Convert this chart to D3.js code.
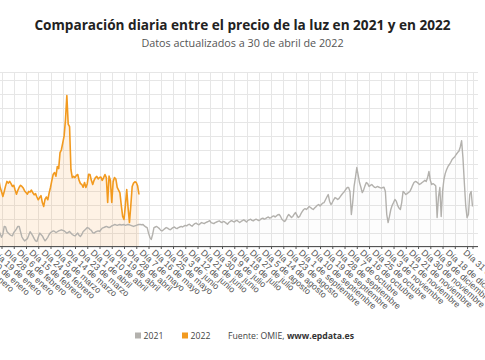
<!DOCTYPE html>
<html><head><meta charset="utf-8">
<script src="https://cdn.jsdelivr.net/npm/d3@7/dist/d3.min.js"></script>
<style>
body{margin:0;background:#fff}
svg{display:block;font-family:"Open Sans",sans-serif}
</style>
</head><body>
<svg id="c" width="485" height="360"></svg>
<script>
const titleText = "Comparación diaria entre el precio de la luz en 2021 y en 2022";
const subtitleText = "Datos actualizados a 30 de abril de 2022";
const seriesNames = ["2021", "2022"];
const sourceLabel = "Fuente: OMIE, ";
const sourceSite = "www.epdata.es";

// 2021 daily prices (€/MWh), by month
const ene21 = [50,43,37,60,66,60,77,94,88,80,92,94,85,73,68,64,60,48,35,45,74,72,56,50,45,42,40,52,58,65,74];
const feb21 = [74,55,36,28,22,26,30,42,55,48,40,30,22,20,35,50,45,40,30,22,28,35,45,52,55,58,56,52];
const mar21 = [55,58,60,62,60,58,54,50,53,56,50,45,42,40,45,50,42,38,45,56,60,65,70,68,63,60,52,50,54,56,58];
const abr21 = [56,62,68,70,72,74,72,70,72,76,78,81,80,78,80,81,79,80,81,78,80,81,80,78,76,74,76,78,80,81];
const may21 = [81,80,81,76,72,70,50,35,27,45,70,72,74,70,66,60,58,62,66,70,68,64,62,66,70,72,68,66,70,72,74];
const jun21 = [72,75,78,76,80,82,78,75,80,84,86,82,80,84,88,86,84,88,90,92,95,88,86,84,88,90,92,94,90,88];
const jul21 = [92,90,86,82,88,92,95,92,90,94,96,92,88,92,95,98,94,90,96,98,100,96,94,98,100,98,95,98,102,104,100];
const ago21 = [102,106,108,104,106,110,112,108,112,116,117,110,100,95,92,98,110,117,112,106,110,118,124,115,106,110,120,128,135,138,135];
const sep21 = [140,146,142,138,135,140,145,150,153,148,153,158,160,170,180,189,165,153,160,170,178,175,171,175,182,189,195,200,208,214];
const oct21 = [214,200,117,160,218,250,286,260,232,215,196,205,220,232,228,218,222,225,220,215,214,218,216,214,212,214,215,200,117,88,110];
const nov21 = [135,150,160,171,165,150,140,135,160,200,195,189,192,196,200,210,222,232,236,234,230,225,228,232,236,240,236,250,272,240];
const dic21 = [225,228,225,220,106,180,214,110,200,243,265,279,290,297,305,315,320,325,333,340,345,360,383,320,232,150,106,117,189,200,146];

// 2022 daily prices (€/MWh), 1 Jan - 30 Apr
const ene22 = [146,120,165,200,210,190,175,160,145,210,235,248,252,245,238,230,243,215,200,182,200,220,236,230,236,228,218,222,205,190,204];
const feb22 = [215,222,218,212,202,196,190,200,198,205,195,188,192,180,170,178,185,160,146,172,180,170,195,215,240,262,268,255];
const mar22 = [290,282,340,350,375,400,458,545,442,433,279,250,254,250,258,261,240,228,225,215,232,214,228,262,261,240,225,240,250,254,245];
const abr22 = [250,252,240,250,261,250,160,255,240,160,235,250,245,215,205,195,150,110,99,150,207,140,88,150,218,230,235,232,220,189];

const tickDays = [0,9,18,27,36,45,54,63,72,81,90,99,108,117,126,135,144,153,162,171,180,189,198,207,216,225,234,243,252,261,270,279,288,297,306,315,324,333,342,351,360,364];
const tickLabels = ["Día 1 de enero","Día 10 de enero","Día 19 de enero","Día 28 de enero","Día 6 de febrero","Día 15 de febrero","Día 24 de febrero","Día 5 de marzo","Día 14 de marzo","Día 23 de marzo","Día 1 de abril","Día 10 de abril","Día 19 de abril","Día 28 de abril","Día 7 de mayo","Día 16 de mayo","Día 25 de mayo","Día 3 de junio","Día 12 de junio","Día 21 de junio","Día 30 de junio","Día 9 de julio","Día 18 de julio","Día 27 de julio","Día 5 de agosto","Día 14 de agosto","Día 23 de agosto","Día 1 de septiembre","Día 10 de septiembre","Día 19 de septiembre","Día 28 de septiembre","Día 7 de octubre","Día 16 de octubre","Día 25 de octubre","Día 3 de noviembre","Día 12 de noviembre","Día 21 de noviembre","Día 30 de noviembre","Día 9 de diciembre","Día 18 de diciembre","Día 27 de diciembre","Día 31 de diciembre"];
const hiddenLabels = ["Día 27 de diciembre"];
const gridValues = [0,50,100,150,200,250,300,350,400,450,500,550,600];

const values2021 = [].concat(ene21,feb21,mar21,abr21,may21,jun21,jul21,ago21,sep21,oct21,nov21,dic21);
const values2022 = [].concat(ene22,feb22,mar22,abr22);

const colors = {"2021":"#b3b1ad","2022":"#f29a1f"};

const svg = d3.select("#c");
const x = d3.scaleLinear().domain([0,364]).range([-23,472.5]);
const y = d3.scaleLinear().domain([0,630]).range([247,72]);
const plotRight = 478, plotTop = 72, plotBottom = 246;

// grid
const grid = svg.append("g");
grid.selectAll("line.h").data(gridValues.concat([630])).join("line")
  .attr("x1",0).attr("x2",plotRight)
  .attr("y1",d=>Math.round(y(d))+0.5).attr("y2",d=>Math.round(y(d))+0.5)
  .attr("stroke","#e6e6e6").attr("stroke-width",1);
grid.selectAll("line.v").data(tickDays).join("line")
  .attr("x1",d=>Math.round(x(d))+0.5).attr("x2",d=>Math.round(x(d))+0.5)
  .attr("y1",plotTop).attr("y2",plotBottom)
  .attr("stroke","#e6e6e6").attr("stroke-width",1);

const area = d3.area().x((d,i)=>x(i)).y0(y(0)).y1(d=>y(d));
const line = d3.line().x((d,i)=>x(i)).y(d=>y(d));

svg.append("path").datum(values2021).attr("d",area).attr("fill","#9a9a9a").attr("fill-opacity",0.025);
svg.append("path").datum(values2022).attr("d",area).attr("fill","#f7a44a").attr("fill-opacity",0.14);
svg.append("path").datum(values2021).attr("d",line).attr("fill","none").attr("stroke",colors["2021"]).attr("stroke-width",1.4).attr("stroke-linejoin","round");
svg.append("path").datum(values2022).attr("d",line).attr("fill","none").attr("stroke",colors["2022"]).attr("stroke-width",1.6).attr("stroke-linejoin","round");

// x axis
const labelOf = new Map(tickDays.map((d,i)=>[d,tickLabels[i]]));
const xAxis = d3.axisBottom(x).tickValues(tickDays).tickSize(3).tickPadding(0)
  .tickFormat(d=>hiddenLabels.includes(labelOf.get(d)) ? "" : labelOf.get(d));
const gx = svg.append("g").attr("transform",`translate(0,${plotBottom})`).call(xAxis);
gx.select(".domain").attr("stroke","#555").attr("d",`M0,0.5H${plotRight}`);
gx.selectAll(".tick line").attr("stroke","#555");
gx.selectAll(".tick text")
  .attr("fill","#555").attr("font-size","8.8px")
  .attr("text-anchor","start")
  .attr("transform","translate(-6,3) rotate(42)")
  .attr("x",0).attr("y",0).attr("dy","0.7em");

// titles
svg.append("text").attr("x",242.5).attr("y",30).attr("text-anchor","middle")
  .attr("font-weight","700").attr("font-size","13.6px").attr("fill","#222").text(titleText);
svg.append("text").attr("x",242.5).attr("y",46.5).attr("text-anchor","middle")
  .attr("font-size","10.8px").attr("fill","#555").text(subtitleText);

// legend
const lg = svg.append("g").attr("font-size","8.7px").attr("fill","#444");
lg.append("rect").attr("x",135).attr("y",332.5).attr("width",6).attr("height",6).attr("fill",colors["2021"]);
lg.append("text").attr("x",143.5).attr("y",339).text(seriesNames[0]);
lg.append("rect").attr("x",182).attr("y",332.5).attr("width",6).attr("height",6).attr("fill",colors["2022"]);
lg.append("text").attr("x",190.5).attr("y",339).text(seriesNames[1]);
const src = lg.append("text").attr("x",228).attr("y",339);
src.append("tspan").text(sourceLabel);
src.append("tspan").attr("font-weight","700").attr("fill","#333").text(sourceSite);
</script>
</body></html>
